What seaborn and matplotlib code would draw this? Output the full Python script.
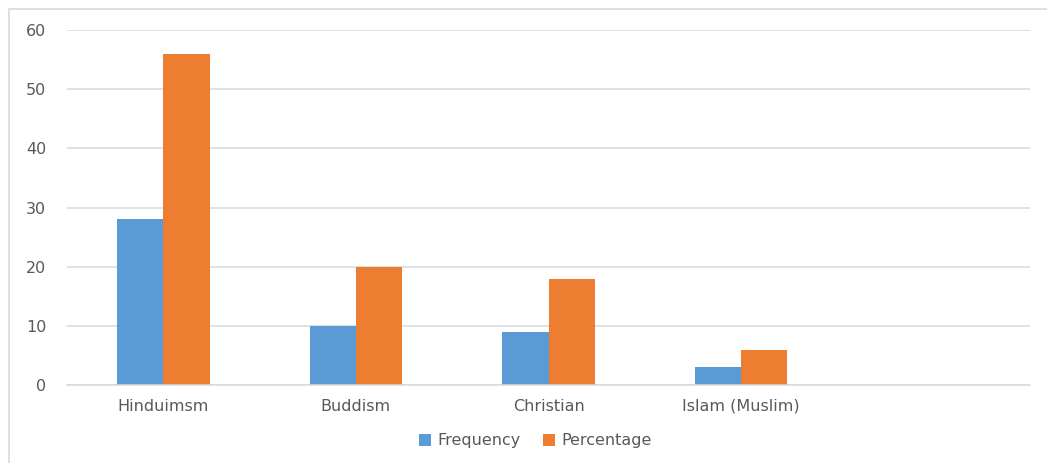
import matplotlib
matplotlib.use("Agg")
import matplotlib.pyplot as plt
from matplotlib.patches import Rectangle
import seaborn as sns
import pandas as pd

categories = ["Hinduimsm", "Buddism", "Christian", "Islam (Muslim)", " "]
frequency = [28, 10, 9, 3]
percentage = [56, 20, 18, 6]
series_names = ["Frequency", "Percentage"]
y_ticks = [0, 10, 20, 30, 40, 50, 60]

rows = []
for name, vals in zip(series_names, [frequency, percentage]):
    for cat, v in zip(categories, vals):
        rows.append({"category": cat, "series": name, "value": v})
df = pd.DataFrame(rows)

sns.set_theme(style="white")
plt.rcParams["font.family"] = ["DejaVu Sans"]

fig = plt.figure(figsize=(10.47, 4.63), dpi=100)
ax = fig.add_axes([67 / 1047, 1 - 385 / 463, (1030 - 67) / 1047, (385 - 30) / 463])

sns.barplot(data=df, x="category", y="value", hue="series", order=categories,
            hue_order=series_names, palette=["#5B9BD5", "#ED7D31"],
            saturation=1, width=0.48, gap=0, linewidth=0, ax=ax, legend=True)

ax.set_ylim(0, 60)
ax.set_xlim(-0.5, len(categories) - 0.5)
ax.set_yticks(y_ticks)
ax.set_yticklabels([str(t) for t in y_ticks])
ax.yaxis.grid(True, color="#d9d9d9", linewidth=1.1)
ax.set_axisbelow(True)
for side in ["top", "right", "left"]:
    ax.spines[side].set_visible(False)
ax.spines["bottom"].set_color("#d9d9d9")
ax.spines["bottom"].set_linewidth(1.1)
ax.set_xlabel("")
ax.set_ylabel("")
ax.tick_params(axis="both", length=0, colors="#595959", labelsize=11.5)
ax.tick_params(axis="y", pad=15)
ax.tick_params(axis="x", pad=10)

leg = ax.legend(loc="center", bbox_to_anchor=(535 / 1047, 1 - 441 / 463),
                bbox_transform=fig.transFigure, ncol=2, frameon=False,
                fontsize=11.5, handlelength=0.75, handleheight=0.75,
                handletextpad=0.4, columnspacing=1.4)
for t in leg.get_texts():
    t.set_color("#595959")

# chart-area outline; its right and bottom edges run past the canvas
fig.add_artist(Rectangle((8.5 / 1047, -0.05), 1.0, 1.05 - 9 / 463,
                         transform=fig.transFigure, fill=False,
                         edgecolor="#d9d9d9", linewidth=1.2))

fig.savefig("out.png", dpi=100, facecolor="white")
